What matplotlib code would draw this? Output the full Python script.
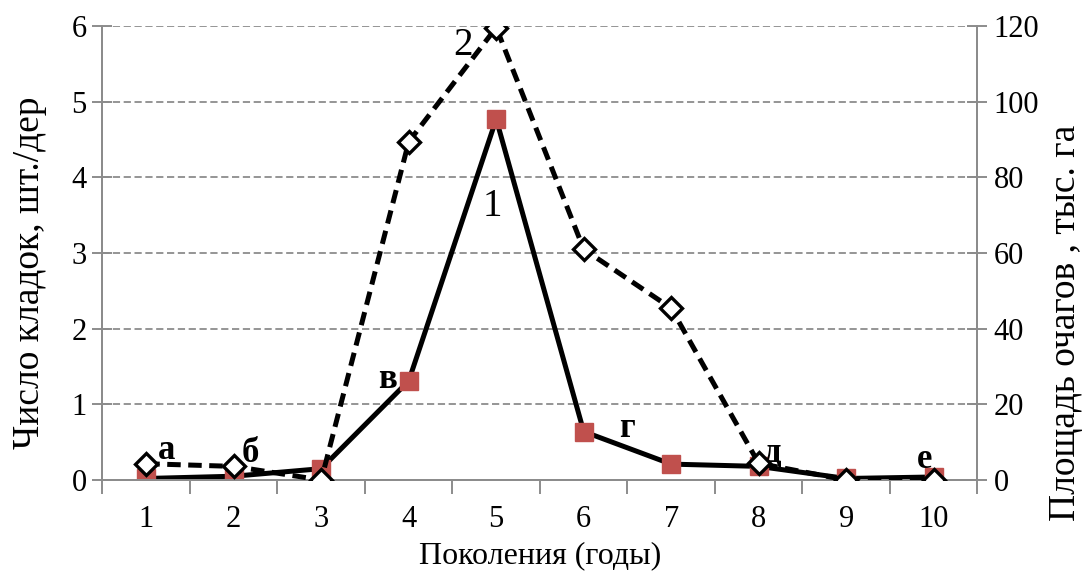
import numpy as np
import matplotlib.pyplot as plt

plt.rcParams['font.family'] = ['Liberation Serif', 'DejaVu Serif']

# Data
years = [1, 2, 3, 4, 5, 6, 7, 8, 9, 10]
eggs = [0.02, 0.05, 0.15, 1.31, 4.77, 0.64, 0.21, 0.18, 0.02, 0.04]     # left axis
area = [4.3, 3.6, 0.0, 89.4, 119.6, 61.0, 45.4, 4.4, 0.0, 0.0]           # right axis

letters = ['а', 'б', 'в', 'г', 'д', 'е']
letter_x = [1.23, 2.19, 3.76, 6.5, 8.15, 9.9]
letter_y = [0.28, 0.24, 1.22, 0.57, 0.24, 0.16]

grey = '#8c8c8c'

fig = plt.figure(figsize=(10.88, 5.73), dpi=100)
ax = fig.add_axes([0.0942, 0.1623, 0.8042, 0.7923])
ax2 = ax.twinx()

ax.plot(years, eggs, color='black', lw=3.6, marker='s', ms=12.5,
        mfc='#C0504D', mec='#C0504D', zorder=3)
ax2.plot(years, area, color='black', lw=3.6, ls=(0, (2.7, 1.5)), marker='D', ms=11,
         mfc='white', mec='black', mew=2.4, zorder=3)

ax.set_xlim(0.5, 10.5)
ax.set_ylim(0, 6)
ax2.set_ylim(0, 120)
ax.set_xticks(years)
ax.set_xticks(np.arange(0.5, 11, 1), minor=True)
ax.tick_params(axis='x', which='major', length=0, pad=18, labelsize=22)
ax.tick_params(axis='x', which='minor', length=10, width=1.4, color=grey)
ax.set_yticks(range(0, 7))
ax.tick_params(axis='y', direction='inout', length=15, width=1.4, color=grey,
               labelsize=22, pad=4)
ax2.set_yticks(range(0, 121, 20))
ax2.tick_params(axis='y', direction='inout', length=15, width=1.4, color=grey,
                labelsize=22, pad=4)

ax.yaxis.grid(True, ls=(0, (4, 2)), color=grey, lw=1.3)
for a in (ax, ax2):
    a.spines['top'].set_visible(False)
    for s in ('left', 'right', 'bottom'):
        a.spines[s].set_color(grey)
        a.spines[s].set_linewidth(1.4)

ax.set_xlabel('Поколения (годы)', fontsize=23)
ax.xaxis.set_label_coords(0.5, -0.134)
ax.set_ylabel('Число кладок, шт./дер', fontsize=27)
ax.yaxis.set_label_coords(-0.0634, 0.456)
ax2.set_ylabel('Площадь очагов , тыс. га', fontsize=27)
ax2.yaxis.set_label_coords(1.081, 0.346)

for t, x, y in zip(letters, letter_x, letter_y):
    ax.text(x, y, t, fontsize=25, fontweight='bold', ha='center', va='baseline')
ax.text(4.96, 3.49, '1', fontsize=28, ha='center', va='baseline')
ax.text(4.62, 5.62, '2', fontsize=28, ha='center', va='baseline')

fig.savefig('out.png', dpi=100)
